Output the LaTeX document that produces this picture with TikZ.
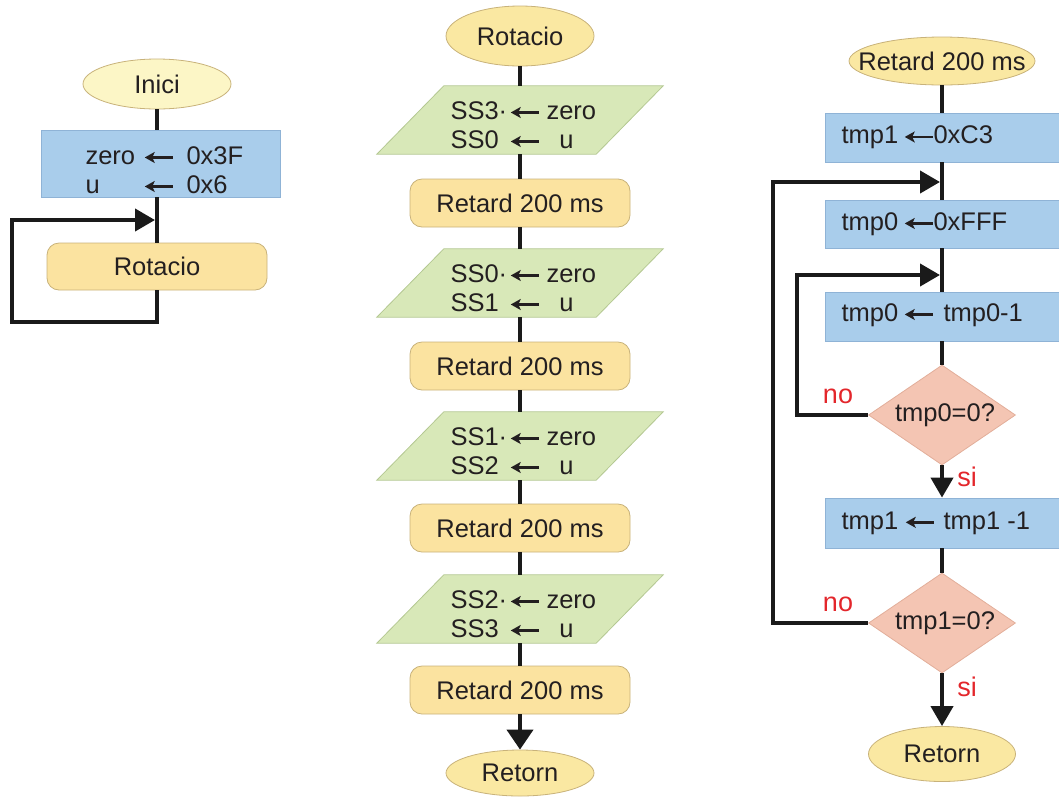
\documentclass[tikz,border=0pt]{standalone}
\usepackage{fontspec}
\setmainfont{Liberation Sans}
\usetikzlibrary{shapes.geometric,arrows.meta,calc}
\definecolor{txt}{HTML}{231F20}
\definecolor{lk}{HTML}{1A1A1A}
\definecolor{inifill}{HTML}{FCF6C6}
\definecolor{termfill}{HTML}{FAE8A2}
\definecolor{termline}{HTML}{C8B27A}
\definecolor{callfill}{HTML}{FBE3A0}
\definecolor{bluefill}{HTML}{A9CDEB}
\definecolor{blueline}{HTML}{8FB3D6}
\definecolor{greenfill}{HTML}{D8E8B8}
\definecolor{greenline}{HTML}{B4C892}
\definecolor{decfill}{HTML}{F4C5B3}
\definecolor{decline}{HTML}{E2AE9A}
\definecolor{lblred}{HTML}{E3262B}
\newcommand{\paraoutline}[1]{%
  \filldraw[draw=greenline, fill=greenfill, line width=0.8pt]
    ($(#1.south west)+(-33.5,0)$) -- ($(#1.south east)+(-33.5,0)$) --
    ($(#1.north east)+(33.5,0)$) -- ($(#1.north west)+(33.5,0)$) -- cycle;}
\newcommand{\larr}{\tikz[baseline=0pt,x=1pt,y=1pt]\draw[line width=2.4pt, draw=txt, line cap=butt,
  -{Stealth[length=10pt,width=11pt,inset=2.5pt]}] (28,6.8) -- (0,6.8);}
\begin{document}
\begin{tikzpicture}[x=1pt,y=-1pt,
  every node/.style={font=\fontsize{25.5}{29}\selectfont, text=txt},
  term/.style={ellipse, draw=termline, fill=termfill, line width=0.8pt, inner sep=0pt},
  procbox/.style={rectangle, draw=blueline, fill=bluefill, line width=0.8pt, inner sep=0pt},
  callbox/.style={rectangle, rounded corners=12pt, draw=termline, fill=callfill, line width=0.8pt, inner sep=0pt},
  iobox/.style={rectangle, inner sep=0pt, minimum width=219pt, minimum height=68pt},
  decbox/.style={diamond, draw=decline, fill=decfill, line width=0.8pt, inner sep=0pt, aspect=1.47,
    minimum width=147pt, minimum height=100pt},
  flow/.style={draw=lk, line width=4pt},
  arr/.style={flow, -{Triangle[length=20pt,width=22pt]}},
  lbl/.style={text=lblred, font=\fontsize{27}{30}\selectfont}]
\useasboundingbox (0,0) rectangle (1059,796);
\clip (0,0) rectangle (1059,796);

% ---------- left column ----------
\node[term, fill=inifill, minimum width=148pt, minimum height=50pt, label=center:Inici] (inici) at (157,84) {};
\node[procbox, minimum width=239pt, minimum height=67pt] (init) at (160.5,163.5) {};
\node[anchor=west, align=left] (inittxt) at (82,170) {\makebox[58pt][l]{zero}\makebox[43pt][l]{\larr}0x3F\\\makebox[58pt][l]{u}\makebox[43pt][l]{\larr}0x6};
\node[callbox, minimum width=220pt, minimum height=47pt] (rot) at (157,266.5) {Rotacio};
\coordinate (lb) at (12,322);
\coordinate (lt) at (12,220);
\coordinate (lj) at (155,220);
\draw[flow] (inici.south) -- (inici.south |- init.north);
\draw[flow] (inici.south |- init.south) -- (rot.north);
\draw[arr] (rot.south) |- (lb) -- (lt) -- (lj);

% ---------- middle column ----------
\node[term, minimum width=148pt, minimum height=60pt, label=center:Rotacio] (rotE) at (520,36) {};
\node[iobox] (p1) at (520,120) {};
\paraoutline{p1}
\node[anchor=west, align=left] (p1t) at (447,125) {\makebox[59pt][l]{SS3·}\makebox[37pt][l]{\larr}zero\\\makebox[59pt][l]{SS0}\makebox[37pt][l]{\larr}\makebox[40pt][c]{u}};
\node[callbox, minimum width=220pt, minimum height=48pt] (r1) at (520,203) {Retard 200 ms};
\node[iobox] (p2) at (520,283) {};
\paraoutline{p2}
\node[anchor=west, align=left] (p2t) at (447,288) {\makebox[59pt][l]{SS0·}\makebox[37pt][l]{\larr}zero\\\makebox[59pt][l]{SS1}\makebox[37pt][l]{\larr}\makebox[40pt][c]{u}};
\node[callbox, minimum width=220pt, minimum height=48pt] (r2) at (520,366) {Retard 200 ms};
\node[iobox] (p3) at (520,446) {};
\paraoutline{p3}
\node[anchor=west, align=left] (p3t) at (447,451) {\makebox[59pt][l]{SS1·}\makebox[37pt][l]{\larr}zero\\\makebox[59pt][l]{SS2}\makebox[37pt][l]{\larr}\makebox[40pt][c]{u}};
\node[callbox, minimum width=220pt, minimum height=48pt] (r3) at (520,528) {Retard 200 ms};
\node[iobox] (p4) at (520,609) {};
\paraoutline{p4}
\node[anchor=west, align=left] (p4t) at (447,614) {\makebox[59pt][l]{SS2·}\makebox[37pt][l]{\larr}zero\\\makebox[59pt][l]{SS3}\makebox[37pt][l]{\larr}\makebox[40pt][c]{u}};
\node[callbox, minimum width=220pt, minimum height=48pt] (r4) at (520,690) {Retard 200 ms};
\node[term, minimum width=148pt, minimum height=46pt, label=center:Retorn] (retM) at (520,773) {};
\draw[flow] (rotE.south) -- (p1.north);
\draw[flow] (p1.south) -- (r1.north);
\draw[flow] (r1.south) -- (p2.north);
\draw[flow] (p2.south) -- (r2.north);
\draw[flow] (r2.south) -- (p3.north);
\draw[flow] (p3.south) -- (r3.north);
\draw[flow] (r3.south) -- (p4.north);
\draw[flow] (p4.south) -- (r4.north);
\draw[flow, -{Triangle[length=20pt,width=26pt]}] (r4.south) -- (retM.north);

% ---------- right column ----------
\coordinate (rc) at (942,0);
\node[term, minimum width=186pt, minimum height=48pt, label=center:Retard 200 ms] (retE) at (942,61) {};
\node[procbox, minimum width=250pt, minimum height=49pt] (b1) at (950,137.5) {};
\node[anchor=west] (b1t) at (838,137.5) {\makebox[62pt][l]{tmp1}\makebox[30pt][l]{\larr}0xC3};
\node[procbox, minimum width=250pt, minimum height=48pt] (b2) at (950,224) {};
\node[anchor=west] (b2t) at (838,224) {\makebox[62pt][l]{tmp0}\makebox[30pt][l]{\larr}0xFFF};
\node[procbox, minimum width=250pt, minimum height=49pt] (b3) at (950,316.5) {};
\node[anchor=west] (b3t) at (838,315) {\makebox[62pt][l]{tmp0}\makebox[40pt][l]{\larr}tmp0-1};
\node[decbox] (d1) at (942,415) {\hspace*{6pt}tmp0=0?};
\node[procbox, minimum width=250pt, minimum height=50pt] (b4) at (950,523) {};
\node[anchor=west] (b4t) at (838,523) {\makebox[63pt][l]{tmp1}\makebox[39pt][l]{\larr}tmp1 -1};
\node[decbox] (d2) at (942,623) {\hspace*{6pt}tmp1=0?};
\node[term, minimum width=147pt, minimum height=55pt, label=center:Retorn] (retR) at (942,754) {};

\node[lbl] (no1) at (838,396) {no};
\node[lbl] (si1) at (967,477) {si};
\node[lbl] (no2) at (838,604) {no};
\node[lbl] (si2) at (967,687) {si};

\coordinate (jo) at (940,182);
\coordinate (ji) at (940,275);
\coordinate (o1) at (773,623);
\coordinate (o2) at (773,182);
\coordinate (i1) at (797,415);
\coordinate (i2) at (797,275);

\draw[flow] (retE.south) -- (rc |- b1.north);
\draw[flow] (rc |- b1.south) -- (rc |- b2.north);
\draw[flow] (rc |- b2.south) -- (rc |- b3.north);
\draw[flow] (rc |- b3.south) -- (d1.north);
\draw[arr] (d1.south) -- (rc |- b4.north);
\draw[flow] (rc |- b4.south) -- (d2.north);
\draw[arr] (d2.south) -- (retR.north);
\draw[arr] (d1.west) -- (i1) -- (i2) -- (ji);
\draw[arr] (d2.west) -- (o1) -- (o2) -- (jo);
\end{tikzpicture}
\end{document}
